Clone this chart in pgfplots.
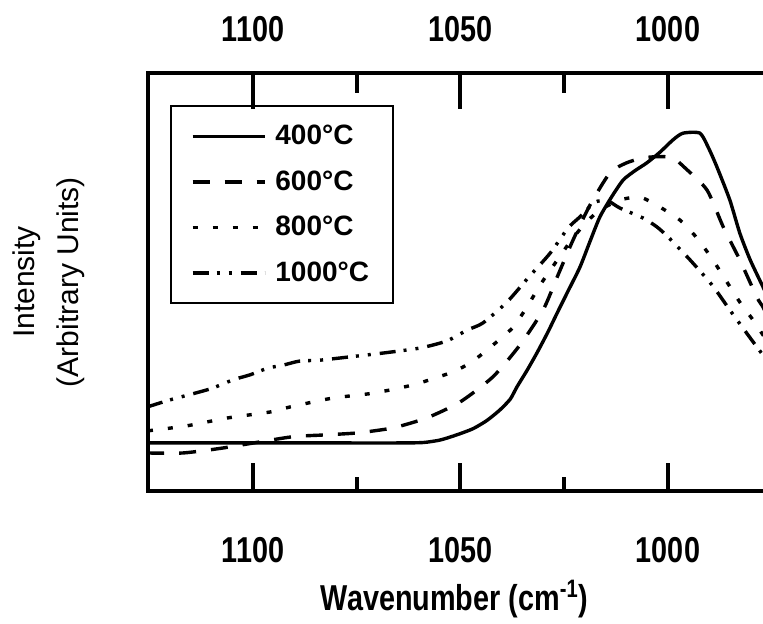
\documentclass[border=0pt]{standalone}
\usepackage{fontspec}
\setmainfont{Liberation Sans}
\newfontfamily\condfont[FakeStretch=0.8]{Liberation Sans}
\usepackage{pgfplots}
\pgfplotsset{compat=1.18}
\usepackage{pgfplotstable}

\pgfplotstableread{
x y
1125.3 11.5
1100 11.5
1080 11.5
1065 11.5
1059 11.6
1054.9 12.2
1051 13.4
1047.0 14.9
1043.6 16.9
1040.5 19.4
1038 22.0
1036.4 24.9
1034 28.8
1031.6 33.0
1029 37.9
1026.7 42.6
1024 48.0
1021.2 53.6
1018.8 59.7
1016.4 65.6
1013.5 70.5
1010.8 74.4
1008 76.6
1005.1 78.5
1002 81.0
998.8 84.0
996.4 85.6
992.3 85.6
990.2 82.0
988.2 77.5
985.1 69.6
982.7 61.7
980.2 55.3
977.1 48.8
976 46.5
}\tfour

\pgfplotstableread{
x y
1125.5 9.1
1116.9 9.1
1107.2 10.3
1091.1 12.9
1083.1 13.4
1074.9 13.9
1066.3 15.1
1058.1 17.5
1050.1 21.3
1042.2 27.3
1035.7 34.9
1030.1 43.3
1026.7 51.2
1022.9 60.0
1018.8 68.4
1014.0 76.1
1010 78.5
1006.0 79.7
1002 80.0
998.8 79.7
995.9 77.3
990.6 72.0
986.7 63.2
982.7 55.3
978.6 46.4
977.1 44.0
976 41.6
}\tsix

\pgfplotstableread{
x y
1125.3 14.4
1115.9 15.6
1106.0 17.5
1095.9 18.9
1091.1 20.1
1081.0 22.2
1071.1 23.4
1061.4 25.4
1051.8 28.5
1047.0 31.1
1042.2 34.9
1037.3 39.2
1033.7 44.5
1030.8 49.3
1027.2 54.5
1023.6 59.6
1020 64.0
1016.4 67.2
1011.6 69.6
1006.7 70.3
1001.9 67.9
997.1 64.8
993.0 60.5
989.2 55.3
985.8 50.0
982.7 45.2
979.5 40.9
977.1 37.3
976 35.8
}\teight

\pgfplotstableread{
x y
1125.5 20.1
1120.0 21.8
1110.4 24.4
1104.8 26.6
1100.7 27.8
1096.4 29.4
1092.8 30.1
1088.7 31.1
1083.9 31.3
1076.6 32.1
1068.7 33.0
1059.8 34.2
1053.3 35.9
1048.4 38.5
1044.6 40.2
1038.8 45.2
1033.7 51.0
1028.4 56.9
1024.1 62.9
1021.2 65.6
1017.6 69.1
1014.5 69.4
1011.6 67.7
1006.0 65.3
1002.7 63.2
1000.0 60.8
994.7 55.3
989.4 49.3
985.1 43.3
980.7 37.3
977.1 32.5
976 31.0
}\tthousand

\begin{document}
\begin{tikzpicture}
\begin{axis}[name=ax,
  scale only axis, width=309.8pt, height=209pt,
  x dir=reverse, xmin=976, xmax=1125.3, ymin=0, ymax=100,
  xtick={1000,1050,1100}, xticklabels={1000,1050,1100},
  minor xtick={1025,1075}, ytick=\empty,
  xtick pos=left, tick align=inside,
  major tick length=14pt, minor tick length=7pt,
  tick style={black, line width=2pt},
  axis line style={line width=2pt},
  xticklabel style={anchor=base, yshift=-35.5pt, font=\condfont\bfseries\fontsize{18}{18}\selectfont},
  xlabel={Wavenumber (cm\textsuperscript{-1})},
  xlabel style={at={(axis description cs:0.495,0)}, anchor=base, yshift=-59.5pt, font=\condfont\bfseries\fontsize{18}{18}\selectfont},
  ylabel={Intensity\\(Arbitrary Units)},
  ylabel style={at={([xshift=-49.7pt]axis description cs:0,0.5)}, anchor=center, rotate=0, align=center, font=\fontsize{15}{22}\selectfont},
  legend cell align=left,
  legend image code/.code={\draw[#1] (0pt,0pt) -- (36pt,0pt);},
  legend style={at={(axis description cs:0.0355,0.9234)}, anchor=north west,
    draw=black, line width=1pt, inner xsep=10pt, inner ysep=7.5pt,
    row sep=7.5pt, column sep=2.5pt,
    font=\bfseries\fontsize{14}{14}\selectfont},
]
\addplot[black, line width=1.7pt, smooth, tension=0.4] table[x=x,y=y]{\tfour};
\addlegendentry{400°C}
\addplot[black, line width=1.7pt, smooth, tension=0.4, dash pattern=on 8.5pt off 7.5pt] table[x=x,y=y]{\tsix};
\addlegendentry{600°C}
\addplot[black, line width=1.7pt, smooth, tension=0.4, dash pattern=on 2.5pt off 7.5pt] table[x=x,y=y]{\teight};
\addlegendentry{800°C}
\addplot[black, line width=1.7pt, smooth, tension=0.4, dash pattern=on 8pt off 4pt on 1.5pt off 4.5pt on 1.5pt off 4.5pt] table[x=x,y=y]{\tthousand};
\addlegendentry{1000°C}
\end{axis}
\begin{axis}[
  scale only axis, width=309.8pt, height=209pt,
  x dir=reverse, xmin=976, xmax=1125.3, ymin=0, ymax=100,
  hide y axis, axis x line*=top, x axis line style={draw=none},
  tick align=inside, xtick pos=right, xticklabel pos=right,
  xtick={1000,1050,1100}, xticklabels={1000,1050,1100},
  minor xtick={1025,1075},
  major tick length=18pt, minor tick length=10pt,
  tick style={black, line width=2pt},
  xticklabel style={anchor=base, yshift=15.5pt, font=\condfont\bfseries\fontsize{18}{18}\selectfont},
]
\end{axis}
\pgfresetboundingbox
\useasboundingbox ([xshift=-74pt,yshift=-66pt]ax.south west) rectangle ([xshift=-2.3pt,yshift=36.5pt]ax.north east);
\end{tikzpicture}
\end{document}
